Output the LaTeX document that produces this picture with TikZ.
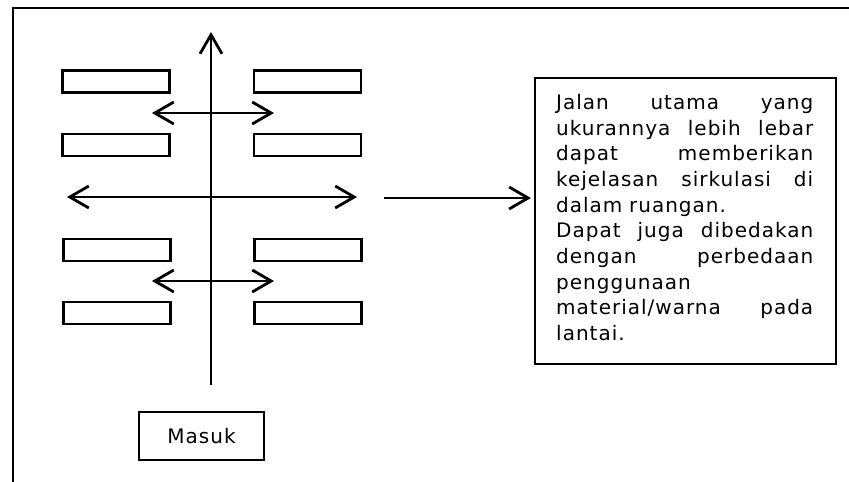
\documentclass[tikz,border=0pt]{standalone}
\usepackage{fontspec}
\setmainfont{DejaVu Sans}[LetterSpace=5]
\usetikzlibrary{arrows.meta}
% a line of text spread over the full measure
\newcommand{\spreadline}[1]{\leavevmode\hbox to 257pt{#1}}
\begin{document}
\begin{tikzpicture}[x=1pt,y=-1pt,
  barb/.tip={Straight Barb[length=19pt,width=22pt,line width=2.8pt]},
  shelf/.style={draw, line width=2.4pt, minimum width=107pt, minimum height=22pt, inner sep=0pt},
  flow/.style={line width=2.8pt, -barb},
  twoway/.style={line width=2.8pt, barb-barb},
  frame/.style={line width=2.2pt},
  txt/.style={font=\fontsize{20}{25.7}\selectfont}
]
\useasboundingbox (0,0) rectangle (849,482);

% outer frame (open on the right and bottom)
\coordinate (ftr) at (849,8);
\coordinate (ftl) at (13,8);
\coordinate (fbl) at (13,482);
\draw[frame] (ftr) -- (ftl) -- (fbl);

% shelves, left and right of the main aisle
\node[shelf] (l1) at (116,81.5) {};
\node[shelf] (l2) at (116,145) {};
\node[shelf] (l3) at (117,250) {};
\node[shelf] (l4) at (117,313) {};
\node[shelf] (r1) at (307.5,81.5) {};
\node[shelf] (r2) at (307.5,145) {};
\node[shelf] (r3) at (308,250) {};
\node[shelf] (r4) at (308,313) {};

% entrance
\node[draw, line width=2.2pt, minimum width=125pt, minimum height=48pt, txt] (masuk) at (201.5,436) {Masuk};

% main aisle
\coordinate (aisleS) at (211,385);
\coordinate (aisleN) at (211,32);
\draw[flow] (aisleS) -- (aisleN);

% cross aisles
\coordinate (a1w) at (152,113);
\coordinate (a1e) at (274,113);
\draw[twoway] (a1w) -- (a1e);
\coordinate (a2w) at (67,197);
\coordinate (a2e) at (357,197);
\draw[twoway] (a2w) -- (a2e);
\coordinate (a3w) at (152,281);
\coordinate (a3e) at (274,281);
\draw[twoway] (a3w) -- (a3e);

% explanation box
\node[draw, line width=2.2pt, minimum width=301pt, minimum height=286pt, inner sep=0pt] (notebox) at (685.5,221) {};
\node[anchor=north west, inner sep=0pt, text width=257pt, align=left, txt] (note) at (556,94) {%
\spreadline{Jalan\hfill utama\hfill yang}\\
\spreadline{ukurannya\hfill lebih\hfill lebar}\\
\spreadline{dapat\hfill memberikan}\\
\spreadline{kejelasan\hfill sirkulasi\hfill di}\\
dalam ruangan.\\
\spreadline{Dapat\hfill juga\hfill dibedakan}\\
\spreadline{dengan\hfill perbedaan}\\
penggunaan\\
\spreadline{material/warna\hfill pada}\\
lantai.};

% pointer to the explanation
\coordinate (ptr) at (384,198);
\draw[flow, shorten >=3pt] (ptr) -- (ptr -| notebox.west);
\end{tikzpicture}
\end{document}
